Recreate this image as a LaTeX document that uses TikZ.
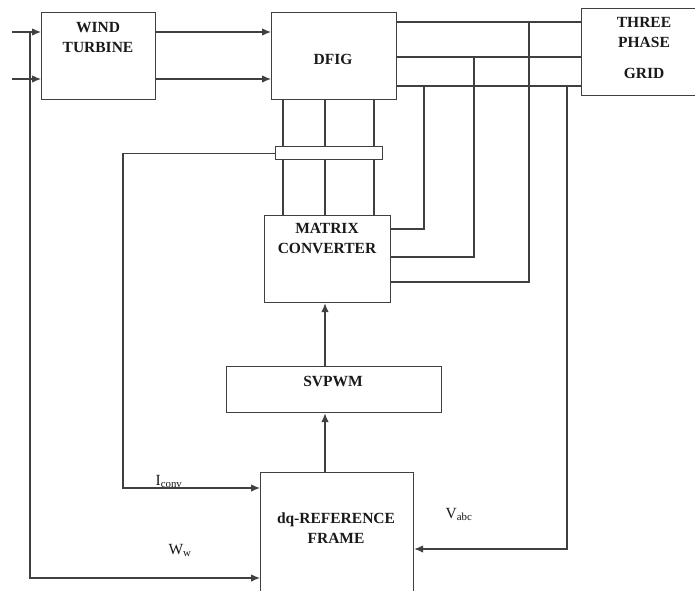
\documentclass[tikz,border=0pt]{standalone}
\usepackage{fontspec}
\setmainfont{Liberation Serif}
\usetikzlibrary{arrows.meta,calc}
\begin{document}
\begin{tikzpicture}[x=1pt,y=-1pt,
  line width=1.2pt, color=black!75,
  box/.style={draw=black!75, fill=white, anchor=north west, inner sep=0pt, line width=1.2pt},
  lbl/.style={font=\bfseries\fontsize{15.5}{20}\selectfont, align=center, text=black!90},
  sig/.style={font=\fontsize{15.5}{18}\selectfont, text=black!90, anchor=base west, inner sep=0pt},
  arr/.style={-{Latex[length=9pt,width=7.5pt]}}]
\clip (0,0) rectangle (695,590);
\fill[white] (0,0) rectangle (695,590);
% boxes
\node[box, minimum width=114pt, minimum height=87pt] (wt) at (41,12) {};
\node[box, minimum width=125pt, minimum height=87pt] (dfig) at (271,12) {};
\node[box, minimum width=114pt, minimum height=87pt] (grid) at (581,8) {};
\node[box, minimum width=126pt, minimum height=87pt] (mc) at (264,215) {};
\node[box, minimum width=107pt, minimum height=13pt] (sens) at (275,146) {};
\node[box, minimum width=215pt, minimum height=46pt] (sv) at (226,366) {};
\node[box, minimum width=153pt, minimum height=140pt] (dq) at (260,472) {};
% box texts
\node[lbl] (wtt) at (98,37) {WIND\\TURBINE};
\node[lbl] (dfigt) at (333,59) {DFIG};
\node[lbl] (gridt) at (644,47.5) {THREE\\PHASE\\[11pt]GRID};
\node[lbl] (mct) at (327,238.5) {MATRIX\\CONVERTER};
\node[lbl] (svt) at (333,381) {SVPWM};
\node[lbl] (dqt) at (336,528) {dq-REFERENCE\\FRAME};
% signal labels
\node[sig] (ilab) at (155,485) {I\textsubscript{conv}};
\node[sig] (wlab) at (168,554) {W\textsubscript{w}};
\node[sig] (vlab) at (445,518) {V\textsubscript{abc}};
% coordinates
\coordinate (in1) at (12,32);
\coordinate (in2) at (12,79);
\coordinate (b1) at (0,22);
\coordinate (b2) at (0,57);
\coordinate (b3) at (0,86);
\coordinate (t1) at (424,86);
\coordinate (t2) at (474,57);
\coordinate (t3) at (529,22);
\coordinate (t4) at (567,86);
\coordinate (m1) at (0,229);
\coordinate (m2) at (0,257);
\coordinate (m3) at (0,282);
\coordinate (v1) at (283,0);
\coordinate (v2) at (325,0);
\coordinate (v3) at (374,0);
\coordinate (ic) at (123,488);
\coordinate (ww0) at (30,32);
\coordinate (ww) at (30,578);
\coordinate (vabc) at (567,549);
% inputs to wind turbine
\draw[arr] (in1) -- (in1 -| wt.west);
\draw[arr] (in2) -- (in2 -| wt.west);
% turbine to DFIG
\draw[arr] (wt.east |- in1) -- (dfig.west |- in1);
\draw[arr] (wt.east |- in2) -- (dfig.west |- in2);
% DFIG to grid buses
\draw (dfig.east |- b1) -- (grid.west |- b1);
\draw (dfig.east |- b2) -- (grid.west |- b2);
\draw (dfig.east |- b3) -- (grid.west |- b3);
% taps to matrix converter
\draw (t1) |- (mc.east |- m1);
\draw (t2) |- (mc.east |- m2);
\draw (t3) |- (mc.east |- m3);
% rotor lines through sensor
\draw (dfig.south -| v1) -- (sens.north -| v1);
\draw (dfig.south -| v2) -- (sens.north -| v2);
\draw (dfig.south -| v3) -- (sens.north -| v3);
\draw (sens.south -| v1) -- (mc.north -| v1);
\draw (sens.south -| v2) -- (mc.north -| v2);
\draw (sens.south -| v3) -- (mc.north -| v3);
% control chain
\draw[arr] (sv.north -| v2) -- (mc.south -| v2);
\draw[arr] (dq.north -| v2) -- (sv.south -| v2);
% feedbacks
\draw[arr] (sens.west) -| (ic) -- (dq.west |- ic);
\draw[arr] (ww0) -- (ww) -- (dq.west |- ww);
\draw[arr] (t4) -- (vabc) -- (dq.east |- vabc);
\end{tikzpicture}
\end{document}
